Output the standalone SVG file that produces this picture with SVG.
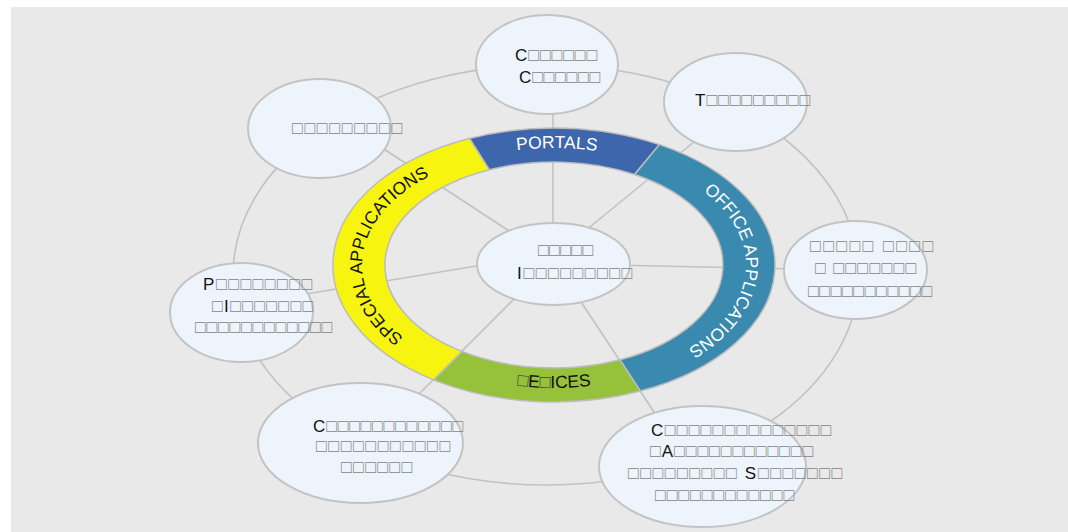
<svg xmlns="http://www.w3.org/2000/svg" width="1068" height="532" viewBox="0 0 1068 532">
<style>
.bg{fill:#e9e9e9}
.ln{fill:none;stroke:#c2c2c2;stroke-width:1.6}
.seg{stroke:#bcbcbc;stroke-width:1.5}
.nd{fill:#edf4fb;stroke:#c3c3c3;stroke-width:2}
.t{font-family:"Liberation Sans",Arial,sans-serif;font-size:17.5px;fill:#858585}
.k{font-size:17px;fill:#111}
.rl{font-family:"Liberation Sans",Arial,sans-serif;font-size:17.5px}
.rb{font-size:18px;fill:#444}
</style>
<defs>
<path id="pPortals" d="M430.6,175.4 A192,117 0 0 1 682.5,178.1"/>
<path id="pOffice" d="M658.6,166.9 A192,117 0 0 1 641.2,369.2"/>
<path id="pSpecial" d="M443.9,360.8 A192,117 0 0 1 472.9,159.0"/>
<path id="pServices" d="M427.4,359.2 A197,123 0 0 0 680.6,359.2"/>
</defs>
<rect class="bg" x="11" y="7" width="1057" height="525"/>

<g id="connectors">
<ellipse class="ln" cx="546" cy="275" rx="313" ry="210"/>
<line class="ln" x1="553" y1="235" x2="553" y2="100"/>
<line class="ln" x1="580" y1="235" x2="700" y2="137"/>
<line class="ln" x1="610" y1="265" x2="800" y2="269"/>
<line class="ln" x1="575" y1="293" x2="662" y2="424"/>
<line class="ln" x1="525" y1="288" x2="410" y2="403"/>
<line class="ln" x1="495" y1="263" x2="300" y2="295"/>
<line class="ln" x1="520" y1="238" x2="370" y2="140"/>
</g>

<g id="ring">
<path id="seg-portals" class="seg" fill="#3d66ad" d="M469.4,138.4 A221,137 0 0 1 659.5,144.6 L634.6,174.5 A169,103 0 0 0 489.3,169.8 Z"/>
<path id="seg-office" class="seg" fill="#3a89ae" d="M659.5,144.6 A221,137 0 0 1 640.3,391.1 L620.0,359.8 A169,103 0 0 0 634.6,174.5 Z"/>
<path id="seg-services" class="seg" fill="#96c23b" d="M640.3,391.1 A221,137 0 0 1 433.6,379.9 L462.0,351.4 A169,103 0 0 0 620.0,359.8 Z"/>
<path id="seg-special" class="seg" fill="#f7f510" d="M433.6,379.9 A221,137 0 0 1 469.4,138.4 L489.3,169.8 A169,103 0 0 0 462.0,351.4 Z"/>
<text class="rl" fill="#ffffff"><textPath href="#pPortals" startOffset="50%" text-anchor="middle">PORTALS</textPath></text>
<text class="rl" fill="#ffffff"><textPath href="#pOffice" startOffset="50%" text-anchor="middle">OFFICE APPLICATIONS</textPath></text>
<text class="rl" fill="#111111"><textPath href="#pSpecial" startOffset="50%" text-anchor="middle">SPECIAL APPLICATIONS</textPath></text>
<text class="rl" fill="#111111"><textPath href="#pServices" startOffset="50%" text-anchor="middle"><tspan class="rb">□</tspan>E<tspan class="rb">□</tspan>ICES</textPath></text>
</g>

<g id="node-center">
<ellipse class="nd" cx="553.5" cy="264" rx="76.5" ry="41"/>
<text class="t" x="538" y="256" textLength="55" lengthAdjust="spacing">□□□□□</text>
<text class="t" x="517" y="279" textLength="115" lengthAdjust="spacing"><tspan class="k">I</tspan>□□□□□□□□□</text>
</g>

<g id="node-top">
<ellipse class="nd" cx="547" cy="64.5" rx="71" ry="49.5"/>
<text class="t" x="515" y="61" textLength="82" lengthAdjust="spacing"><tspan class="k">C</tspan>□□□□□□</text>
<text class="t" x="519" y="83" textLength="81" lengthAdjust="spacing"><tspan class="k">C</tspan>□□□□□□</text>
</g>

<g id="node-top-right">
<ellipse class="nd" cx="735.5" cy="102" rx="71.5" ry="49"/>
<text class="t" x="695" y="106" textLength="115" lengthAdjust="spacing"><tspan class="k">T</tspan>□□□□□□□□□</text>
</g>

<g id="node-top-left">
<ellipse class="nd" cx="319.5" cy="128.5" rx="71.5" ry="49.5"/>
<text class="t" x="292" y="134" textLength="110" lengthAdjust="spacing">□□□□□□□□□</text>
</g>

<g id="node-left">
<ellipse class="nd" cx="241.5" cy="312.5" rx="71.5" ry="49.5"/>
<text class="t" x="203" y="290" textLength="109" lengthAdjust="spacing"><tspan class="k">P</tspan>□□□□□□□□</text>
<text class="t" x="212" y="312" textLength="101" lengthAdjust="spacing">□<tspan class="k">I</tspan>□□□□□□□</text>
<text class="t" x="195" y="333" textLength="137" lengthAdjust="spacing">□□□□□□□□□□□□</text>
</g>

<g id="node-right">
<ellipse class="nd" cx="855.5" cy="270" rx="71.5" ry="49"/>
<text class="t" x="810" y="252" textLength="123" lengthAdjust="spacing">□□□□□ □□□□</text>
<text class="t" x="815" y="274" textLength="101" lengthAdjust="spacing">□ □□□□□□□</text>
<text class="t" x="808" y="297" textLength="124" lengthAdjust="spacing">□□□□□□□□□□□</text>
</g>

<g id="node-bottom-left">
<ellipse class="nd" cx="360.5" cy="443" rx="102.5" ry="60"/>
<text class="t" x="313" y="432" textLength="150" lengthAdjust="spacing"><tspan class="k">C</tspan>□□□□□□□□□□□□</text>
<text class="t" x="316" y="452" textLength="134" lengthAdjust="spacing">□□□□□□□□□□□</text>
<text class="t" x="341" y="473" textLength="71" lengthAdjust="spacing">□□□□□□</text>
</g>

<g id="node-bottom-right">
<ellipse class="nd" cx="702.5" cy="466.5" rx="103.5" ry="60.5"/>
<text class="t" x="651" y="436" textLength="180" lengthAdjust="spacing"><tspan class="k">C</tspan>□□□□□□□□□□□□□□</text>
<text class="t" x="650" y="457" textLength="163" lengthAdjust="spacing">□<tspan class="k">A</tspan>□□□□□□□□□□□□</text>
<text class="t" x="628" y="479" textLength="214" lengthAdjust="spacing">□□□□□□□□□ <tspan class="k">S</tspan>□□□□□□□</text>
<text class="t" x="655" y="501" textLength="139" lengthAdjust="spacing">□□□□□□□□□□□□</text>
</g>
</svg>
